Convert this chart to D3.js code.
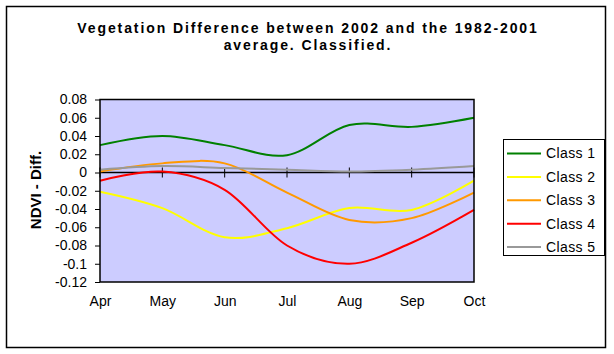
<!DOCTYPE html>
<html>
<head>
<meta charset="utf-8">
<script src="https://cdn.jsdelivr.net/npm/d3@7"></script>
<style>
  body { margin: 0; background: #fff; }
  svg { display: block; font-family: "Liberation Sans", Arial, sans-serif; }
</style>
</head>
<body>
<svg width="614" height="354"></svg>
<script>
var months = ["Apr", "May", "Jun", "Jul", "Aug", "Sep", "Oct"];
var classNames = ["Class 1", "Class 2", "Class 3", "Class 4", "Class 5"];
var class1 = [0.030, 0.040, 0.030, 0.019, 0.052, 0.050, 0.060];
var class2 = [-0.021, -0.039, -0.071, -0.061, -0.039, -0.041, -0.009];
var class3 = [0.001, 0.010, 0.010, -0.022, -0.052, -0.050, -0.022];
var class4 = [-0.009, 0.001, -0.019, -0.080, -0.100, -0.077, -0.041];
var class5 = [0.003, 0.007, 0.005, 0.003, 0.001, 0.003, 0.007];
var yTicks = [0.08, 0.06, 0.04, 0.02, 0, -0.02, -0.04, -0.06, -0.08, -0.1, -0.12];
var colors = ["#008000", "#ffff00", "#ff9900", "#ff0000", "#999999"];

var series = [class1, class2, class3, class4, class5];

var svg = d3.select("svg");

// outer chart border
svg.append("rect")
    .attr("x", 6.5).attr("y", 6.5)
    .attr("width", 599).attr("height", 341)
    .attr("fill", "#fff")
    .attr("stroke", "#000")
    .attr("stroke-width", 1.5);

// title
var title = svg.append("text")
    .attr("text-anchor", "middle")
    .attr("font-size", 14)
    .attr("font-weight", "bold")
    .attr("letter-spacing", 1.9);
title.append("tspan").attr("x", 308).attr("y", 33)
    .text("Vegetation Difference between 2002 and the 1982-2001");
title.append("tspan").attr("x", 308).attr("y", 50)
    .text("average. Classified.");

var x = d3.scalePoint()
    .domain(months)
    .range([100, 474]);

var y = d3.scaleLinear()
    .domain([-0.12, 0.08])
    .range([282, 99.5]);

// plot area
svg.append("rect")
    .attr("x", 100).attr("y", y(0.08))
    .attr("width", 374).attr("height", y(-0.12) - y(0.08))
    .attr("fill", "#ccccff");

// y axis
var yAxis = svg.append("g")
    .attr("transform", "translate(100,0)")
    .call(d3.axisLeft(y).tickValues(yTicks).tickSize(5).tickPadding(8)
        .tickFormat(d => String(+d.toFixed(2))));
yAxis.select(".domain").remove();
yAxis.selectAll(".tick text").attr("font-size", 14).attr("font-family", null);

// x labels
var xAxis = svg.append("g")
    .attr("transform", "translate(0," + y(-0.12) + ")")
    .call(d3.axisBottom(x).tickSize(0).tickPadding(14));
xAxis.select(".domain").remove();
xAxis.selectAll(".tick text").attr("font-size", 14).attr("font-family", null);

// category axis at zero
svg.append("line")
    .attr("x1", 100).attr("x2", 474)
    .attr("y1", y(0)).attr("y2", y(0))
    .attr("stroke", "#000").attr("stroke-width", 1.5);
svg.selectAll(".ztick")
    .data(months)
    .enter().append("line")
    .attr("x1", d => x(d)).attr("x2", d => x(d))
    .attr("y1", y(0) - 5).attr("y2", y(0) + 5)
    .attr("stroke", "#000").attr("stroke-width", 1);

// lines
var line = d3.line()
    .x((d, i) => x(months[i]))
    .y(d => y(d))
    .curve(d3.curveCatmullRom.alpha(0));

svg.selectAll(".series")
    .data(series)
    .enter().append("path")
    .attr("d", d => line(d))
    .attr("fill", "none")
    .attr("stroke", (d, i) => colors[i])
    .attr("stroke-width", 2);

// plot border
svg.append("rect")
    .attr("x", 100).attr("y", y(0.08))
    .attr("width", 374).attr("height", y(-0.12) - y(0.08))
    .attr("fill", "none")
    .attr("stroke", "#000").attr("stroke-width", 1.5);

// y axis title
svg.append("text")
    .attr("transform", "translate(41,190) rotate(-90)")
    .attr("text-anchor", "middle")
    .attr("font-size", 15)
    .attr("font-weight", "bold")
    .text("NDVI - Diff.");

// legend
svg.append("rect")
    .attr("x", 503.5).attr("y", 139.5)
    .attr("width", 101).attr("height", 116)
    .attr("fill", "#fff")
    .attr("stroke", "#000").attr("stroke-width", 1);

var legend = svg.selectAll(".leg")
    .data(classNames)
    .enter().append("g")
    .attr("transform", (d, i) => "translate(507," + (153.5 + i * 23.4) + ")");
legend.append("line")
    .attr("x1", 0).attr("x2", 34)
    .attr("stroke", (d, i) => colors[i])
    .attr("stroke-width", 2);
legend.append("text")
    .attr("x", 39).attr("dy", "0.35em")
    .attr("font-size", 14)
    .attr("letter-spacing", 0.4)
    .text(d => d);
</script>
</body>
</html>
